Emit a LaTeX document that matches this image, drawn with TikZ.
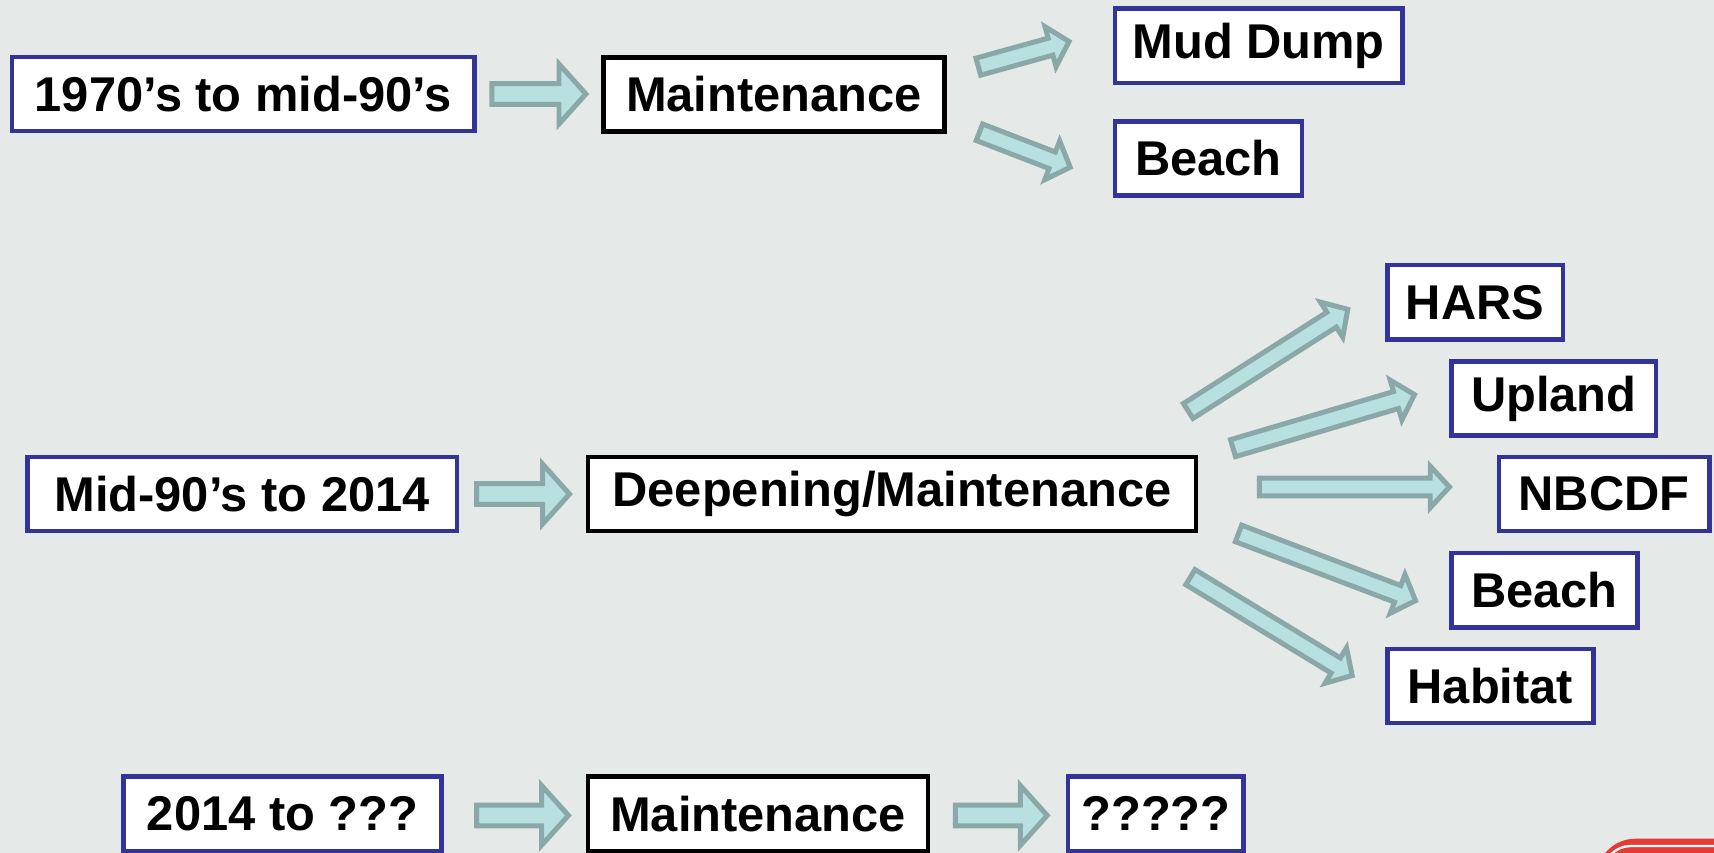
\documentclass[tikz,border=0pt]{standalone}
\usepackage{fontspec}
\setmainfont{Liberation Sans}
\usetikzlibrary{calc}
\definecolor{boxblue}{RGB}{51,51,153}
\definecolor{arrowfill}{RGB}{184,224,225}
\definecolor{arrowline}{RGB}{138,168,168}
\definecolor{slidebg}{RGB}{229,233,231}
\definecolor{btnred}{RGB}{232,58,52}
\newcommand{\blockarrow}[5]{%
  \coordinate (ba-base) at ($(#2)!#5!(#1)$);
  \filldraw[arrowbox] ($(#1)!#3!90:(#2)$) -- ($(ba-base)!#3!90:(#2)$) -- ($(ba-base)!#4!90:(#2)$) -- (#2)
    -- ($(ba-base)!#4!-90:(#2)$) -- ($(ba-base)!#3!-90:(#2)$) -- ($(#1)!#3!-90:(#2)$) -- cycle;
}
\begin{document}
\begin{tikzpicture}[x=0.01cm, y=-0.01cm,
    box/.style={line width=1.2pt, fill=white, minimum height=19.3pt, inner sep=0pt,
      font=\bfseries\fontsize{12.7}{15}\selectfont},
    bluebox/.style={box, draw=boxblue},
    blackbox/.style={box, draw=black},
    arrowbox/.style={fill=arrowfill, draw=arrowline, line width=1.3pt}]
    \clip (0,0) rectangle (1568,780);
    \fill[slidebg] (0,0) rectangle (1568,780);
    \filldraw[fill=btnred, draw=btnred, rounded corners=10] (1461,768) rectangle (1640,840);
    \draw[white, line width=0.6pt, rounded corners=7] (1467,774) rectangle (1640,840);

    \node[bluebox, minimum width=120.3pt] (p1) at (222.5,86) {1970’s to mid-90’s};
    \node[blackbox, minimum width=88.7pt] (maint1) at (708,86.5) {Maintenance};
    \node[bluebox, minimum width=74.8pt] (mud) at (1151.5,42) {Mud Dump};
    \node[bluebox, minimum width=48.6pt] (beach1) at (1105.5,145) {Beach};

    \node[bluebox, minimum width=111.7pt] (p2) at (221.5,452) {Mid-90’s to 2014};
    \node[blackbox, minimum width=158.1pt] (deep) at (816,452) {Deepening/Maintenance};
    \node[bluebox, minimum width=45.7pt] (hars) at (1349.5,276.5) {HARS};
    \node[bluebox, minimum width=53.1pt] (upland) at (1421.5,364.5) {Upland};
    \node[bluebox, minimum width=54.8pt] (nbcdf) at (1467.5,452) {NBCDF};
    \node[bluebox, minimum width=48.3pt] (beach2) at (1413,540) {Beach};
    \node[bluebox, minimum width=53.7pt] (habitat) at (1363.5,627.5) {Habitat};

    \node[bluebox, minimum width=82.7pt] (p3) at (258.5,744.5) {2014 to ???};
    \node[blackbox, minimum width=88.4pt] (maint3) at (693.5,744.5) {Maintenance};
    \node[bluebox, minimum width=45.7pt] (unknown) at (1057.5,744.5) {?????};

    \coordinate (p1-out) at (450,86);      \coordinate (maint1-in) at (536,86);
    \coordinate (mud-out) at (895,61);     \coordinate (mud-in) at (978,38);
    \coordinate (beach1-out) at (896,121); \coordinate (beach1-in) at (979,153);
    \coordinate (p2-out) at (436,452);     \coordinate (deep-in) at (521,452);
    \coordinate (hars-out) at (1087,376);  \coordinate (hars-in) at (1233,283);
    \coordinate (upland-out) at (1128,410); \coordinate (upland-in) at (1294,361);
    \coordinate (nbcdf-out) at (1152,445.5); \coordinate (nbcdf-in) at (1326,445.5);
    \coordinate (beach2-out) at (1133,488); \coordinate (beach2-in) at (1295,549.5);
    \coordinate (habitat-out) at (1089,528); \coordinate (habitat-in) at (1237,618);
    \coordinate (p3-out) at (436,746);     \coordinate (maint3-in) at (520,746);
    \coordinate (maint3-out) at (874,746); \coordinate (unknown-in) at (958,746);

    \blockarrow{p1-out}{maint1-in}{2.7pt}{7.8pt}{7pt}
    \blockarrow{p2-out}{deep-in}{2.7pt}{7.8pt}{7pt}
    \blockarrow{p3-out}{maint3-in}{2.7pt}{7.8pt}{7pt}
    \blockarrow{maint3-out}{unknown-in}{2.7pt}{7.8pt}{7pt}
    \blockarrow{mud-out}{mud-in}{2.3pt}{5.4pt}{5pt}
    \blockarrow{beach1-out}{beach1-in}{2.3pt}{5.4pt}{5pt}
    \blockarrow{hars-out}{hars-in}{2.3pt}{5.4pt}{5pt}
    \blockarrow{upland-out}{upland-in}{2.3pt}{5.4pt}{5pt}
    \blockarrow{nbcdf-out}{nbcdf-in}{2.3pt}{5.4pt}{5pt}
    \blockarrow{beach2-out}{beach2-in}{2.3pt}{5.4pt}{5pt}
    \blockarrow{habitat-out}{habitat-in}{2.3pt}{5.4pt}{5pt}
\end{tikzpicture}
\end{document}
